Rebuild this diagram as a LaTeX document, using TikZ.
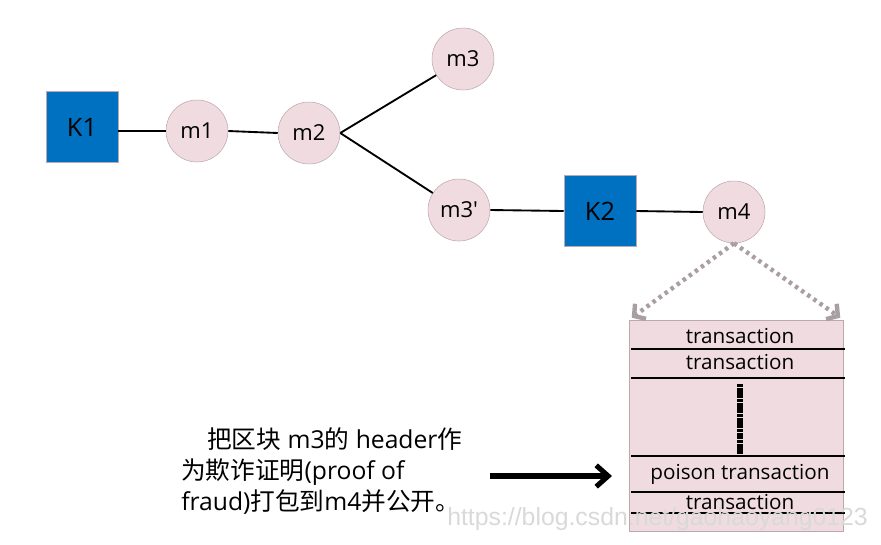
\documentclass[tikz,border=0pt]{standalone}
\usepackage{fontspec}
\setmainfont{Open Sans}
\newfontfamily\cjk{Noto Sans CJK SC}
\newfontfamily\markfont{Liberation Sans}
\usetikzlibrary{arrows.meta,positioning}
\definecolor{kblue}{HTML}{0070C0}
\definecolor{mpink}{HTML}{F0DCE0}
\definecolor{medge}{HTML}{BCA8AD}
\definecolor{dotgray}{HTML}{A99FA3}
\tikzstyle{block} = [draw=medge, fill=kblue, minimum width=54pt, minimum height=53pt, inner sep=0pt, font=\fontsize{19}{19}\selectfont]
\tikzstyle{msg} = [circle, draw=medge, fill=mpink, minimum size=46.5pt, inner sep=0pt, font=\fontsize{16.5}{16.5}\selectfont]
\tikzstyle{link} = [line width=1.4pt]
\tikzstyle{arrow} = [line width=3.8pt, -{Straight Barb[length=9pt,width=16pt]}]
\tikzstyle{peek} = [dotgray, line width=3.3pt, dash pattern=on 2.6pt off 3pt, -{Straight Barb[length=6pt,width=14pt]}]
\tikzstyle{tx} = [font=\fontsize{15.5}{15.5}\selectfont, inner sep=0pt]

\begin{document}
\begin{tikzpicture}[x=0.75pt, y=-0.75pt]
    \useasboundingbox (0,0) rectangle (881,544);
    % chain
    \node[block] (K1) at (82,127) {K1};
    \node[msg] (m1) at (197,131) {m1};
    \node[msg] (m2) at (309,133) {m2};
    \node[msg] (m3) at (463,59) {m3};
    \node[msg] (m3p) at (459,210) {m3\textquotesingle};
    \node[block] (K2) at (600,211) {K2};
    \node[msg] (m4) at (734,212) {m4};
    \draw[link] (K1.east |- m1) -- (m1.west);
    \draw[link] (m1.east) -- (m2.west);
    \draw[link] (m2.east) -- (m3);
    \draw[link] (m2.east) -- (m3p);
    \draw[link] (m3p.east) -- (K2.west);
    \draw[link] (K2.east) -- (m4.west);
    % block body
    \node[draw=medge, fill=mpink, minimum width=160.5pt, minimum height=158.3pt, inner sep=0pt] (blk) at (736,425.5) {};
    \foreach \y in {349,378,456,492,513}
        \draw[line width=1pt] (631,\y) -- (845,\y);
    \node[tx] (t1) at (740,336) {transaction};
    \node[tx] (t2) at (740,362) {transaction};
    \node[tx] (poison) at (740,474) {poison transaction};
    \node[tx] (t3) at (740,502) {transaction};
    \draw[line width=3.8pt, dash pattern=on 2.4pt off 0.4pt] (740,384) -- (740,456);
    \draw[peek] (m4.south) -- ([shift={(3,-2)}]blk.north west);
    \draw[peek] (m4.south) -- ([shift={(-3,-2)}]blk.north east);
    % note
    \node[anchor=base west, align=left, inner sep=0pt, font=\fontsize{18.5}{23.25}\selectfont] (note) at (181,510)
        {\hspace*{19.5pt}{\cjk 把区块} m3{\cjk 的} header{\cjk 作}\\{\cjk 为欺诈证明}(proof of\\fraud){\cjk 打包到}m4{\cjk 并公开。}};
    \coordinate (from) at (490,476);
    \draw[arrow] (from) -- (612,476);
    \node[anchor=base west, inner sep=0pt, text=gray!30, font=\markfont\fontsize{18.6}{18.6}\selectfont] (mark) at (447,525) {https://blog.csdn.net/gaohaoyang0123};
\end{tikzpicture}
\end{document}
